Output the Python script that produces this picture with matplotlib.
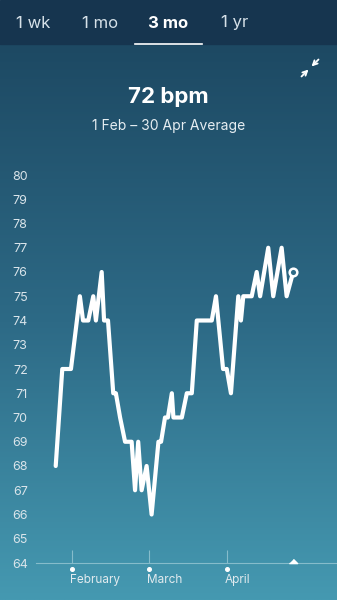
import numpy as np
import matplotlib
matplotlib.use("Agg")
import matplotlib.pyplot as plt
import matplotlib.transforms as mtransforms
from matplotlib.colors import LinearSegmentedColormap

plt.rcParams['font.family'] = ['Inter', 'DejaVu Sans']

# ---------------- data ----------------
tabs = ["1 wk", "1 mo", "3 mo", "1 yr"]
selected_tab = "3 mo"
title = "72 bpm"
subtitle = "1 Feb \u2013 30 Apr Average"

# days since 1 Feb
days = [-6.2, -3.7, -0.4, 3.0, 4.2, 6.2, 8.1, 9.1, 11.3, 12.2, 13.7, 15.7, 16.7,
        18.3, 20.2, 22.7, 24.0, 25.2, 26.5, 28.4, 30.3, 32.9, 33.9, 35.4, 36.5,
        38.0, 38.6, 41.8, 43.7, 45.6, 47.5, 53.2, 54.8, 57.5, 58.9, 60.5, 63.3,
        64.3, 65.2, 68.4, 70.3, 71.6, 74.7, 76.6, 79.8, 81.7, 84.2]
bpm = [68, 72, 72, 75, 74, 74, 75, 74, 76, 74, 74, 71, 71,
       70, 69, 69, 67, 69, 67, 68, 66, 69, 69, 70, 70,
       71, 70, 70, 71, 71, 74, 74, 75, 72, 72, 71, 75,
       74, 75, 75, 76, 75, 77, 75, 77, 75, 76]

month_pos = [0, 29.3, 59]
month_labels = ["February", "March", "April"]
y_ticks = list(range(64, 81))
today = days[-1]

# ---------------- figure ----------------
W, H = 337, 600
fig = plt.figure(figsize=(W / 100, H / 100), dpi=100)

# background gradient
bg = fig.add_axes([0, 0, 1, 1], zorder=0)
cmap = LinearSegmentedColormap.from_list("bg", ["#1d4963", "#2d6a86", "#4599b1"])
grad = np.linspace(0, 1, 256).reshape(-1, 1)
bg.imshow(grad, aspect="auto", cmap=cmap, extent=[0, W, H, 44])
bg.add_patch(plt.Rectangle((0, 0), W, 44, color="#16354f", zorder=2))
bg.set_xlim(0, W)
bg.set_ylim(H, 0)
bg.axis("off")

# tabs
tab_x = [33, 100, 168, 235]
for t, x in zip(tabs, tab_x):
    sel = (t == selected_tab)
    bg.text(x, 23, t, ha="center", va="center", fontsize=12,
            color="white" if sel else "#d6e1e8",
            fontweight="bold" if sel else "normal", zorder=3)
bg.plot([135, 202], [43.5, 43.5], color="white", lw=1.2, zorder=3)

# compress icon
bg.annotate("", xy=(311.5, 66.5), xytext=(318.5, 59.5),
            arrowprops=dict(arrowstyle="->", color="white", lw=1.3,
                            shrinkA=0, shrinkB=0, mutation_scale=8), zorder=3)
bg.annotate("", xy=(308.5, 69.5), xytext=(301.5, 76.5),
            arrowprops=dict(arrowstyle="->", color="white", lw=1.3,
                            shrinkA=0, shrinkB=0, mutation_scale=8), zorder=3)

bg.text(168.5, 97, title, ha="center", va="center", fontsize=16,
        fontweight="bold", color="white", zorder=3)
bg.text(168.5, 126, subtitle, ha="center", va="center", fontsize=10,
        color="#e6eef2", zorder=3)

# ---------------- chart ----------------
left_px, right_px, top_px, bot_px = 36, 337, 175, 563
ax = fig.add_axes([left_px / W, 1 - bot_px / H, (right_px - left_px) / W,
                   (bot_px - top_px) / H], zorder=1)
ax.set_facecolor("none")
px_per_day = (227 - 72) / 59.0
ax.set_xlim(-(72 - left_px) / px_per_day, (right_px - 72) / px_per_day)
ax.set_ylim(64, 80)

ax.plot(days, bpm, color="white", lw=3.0, solid_joinstyle="round",
        solid_capstyle="round", clip_on=False, zorder=3)
ax.plot([days[-1]], [bpm[-1]], marker="o", ms=5.5, mfc="#2f6b86",
        mec="white", mew=1.8, clip_on=False, zorder=4)

for s in ["top", "right", "left"]:
    ax.spines[s].set_visible(False)
axis_col = "#86bccb"
ax.spines["bottom"].set_color(axis_col)
ax.spines["bottom"].set_linewidth(0.8)

ax.set_yticks(y_ticks)
ax.set_yticklabels([str(v) for v in y_ticks])
ax.tick_params(axis="y", length=0, pad=6, labelsize=9, labelcolor="#d9e4ea")
ax.set_xticks(month_pos)
ax.tick_params(axis="x", direction="in", length=9.4, width=0.8,
               color=axis_col, labelbottom=False)

dot_tr = mtransforms.offset_copy(ax.transData, fig=fig, x=0, y=-6, units="dots")
ax.plot(month_pos, [64] * len(month_pos), "o", ms=2.6, color="white",
        transform=dot_tr, clip_on=False, zorder=4)
for m, lab in zip(month_pos, month_labels):
    ax.annotate(lab, xy=(m, 64), xytext=(-2, -17), textcoords="offset pixels",
                ha="left", va="center", fontsize=8.5, color="#e2ebef",
                annotation_clip=False)

tri_tr = mtransforms.offset_copy(ax.transData, fig=fig, x=0, y=2, units="dots")
ax.plot([today], [64], marker=[(-1, -0.5), (1, -0.5), (0, 0.5)], ms=6,
        color="white", transform=tri_tr, clip_on=False, zorder=4)

fig.savefig("out.png", dpi=100)
